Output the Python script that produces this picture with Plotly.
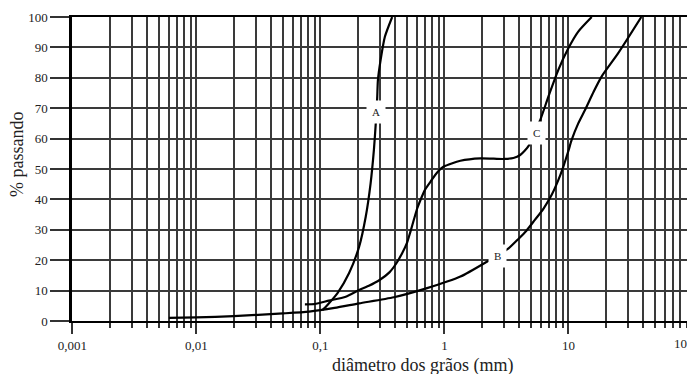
import math
import plotly.graph_objects as go

# ---- data ----
a_d = [0.104, 0.114, 0.137, 0.17, 0.205, 0.232, 0.254, 0.27, 0.279, 0.287, 0.291, 0.306, 0.331, 0.379]
a_v = [3.6, 5.3, 9.1, 15.7, 24.4, 34.3, 45.3, 56.3, 64.5, 73.3, 79.3, 85.9, 93.5, 100.0]

b_d = [0.006, 0.01, 0.02, 0.05, 0.081, 0.13, 0.205, 0.391, 0.724, 1.346, 2.2, 3.29, 3.95, 4.6,
       5.3, 6.3, 7.33, 8.3, 9.1, 10.0, 10.6, 12.0, 13.6, 16.0, 18.5, 25.2, 38.7]
b_v = [1.0, 1.2, 1.6, 2.5, 3.1, 4.3, 5.8, 7.8, 10.8, 14.6, 19.5, 23.9, 27.0, 29.8,
       33.0, 37.0, 41.5, 46.4, 50.8, 56.0, 59.5, 65.0, 69.4, 75.5, 80.4, 88.1, 100.0]

c_d = [0.075, 0.09, 0.117, 0.16, 0.205, 0.246, 0.3, 0.36, 0.41, 0.456, 0.5, 0.533, 0.566, 0.603,
       0.641, 0.7, 0.771, 0.87, 0.987, 1.345, 1.95, 3.0, 3.6, 4.08, 4.76, 5.3, 5.92, 6.89, 8.29,
       9.98, 12.0, 15.4]
c_v = [5.5, 5.6, 6.7, 8.0, 10.2, 11.6, 13.5, 16.0, 19.0, 22.3, 25.8, 29.5, 33.2, 37.0,
       39.8, 43.3, 45.8, 48.8, 50.8, 52.7, 53.5, 53.3, 53.6, 54.6, 57.5, 62.0, 66.1, 73.8, 82.6,
       89.7, 95.2, 100.0]

curve_names = ["A", "B", "C"]
label_d = [0.279, 2.70, 5.55]
label_v = [68.8, 21.4, 61.7]

x_tick_vals = [0.001, 0.01, 0.1, 1, 10]
x_tick_text = ["0,001", "0,01", "0,1", "1", "10"]
y_tick_vals = [0, 10, 20, 30, 40, 50, 60, 70, 80, 90, 100]
x_minor_vals = [m * 10.0 ** e for e in range(-3, 2) for m in range(2, 10)]

x_title = "diâmetro dos grãos (mm)"
y_title = "% passando"

# ---- figure ----
GRID = "#3a3a3a"
TXT = "#222222"
FONT = "Liberation Serif, Times New Roman, serif"

fig = go.Figure()
for d, v in [(a_d, a_v), (b_d, b_v), (c_d, c_v)]:
    fig.add_trace(go.Scatter(
        x=d, y=v, mode="lines",
        line=dict(color="black", width=2.2, shape="spline", smoothing=0.6),
        hoverinfo="skip", showlegend=False))

annotations = []
for name, d, v in zip(curve_names, label_d, label_v):
    annotations.append(dict(x=math.log10(d), y=v, xref="x", yref="y", text=name, showarrow=False,
                            font=dict(size=11, color=TXT, family=FONT),
                            bgcolor="white", borderpad=5))

annotations.append(dict(x=(684 - 72) / 615, y=(321 - 343) / 304, xref="paper", yref="paper",
                        text="100", showarrow=False, xanchor="center", yanchor="middle",
                        font=dict(size=13, color=TXT, family=FONT)))
annotations.append(dict(x=(423 - 72) / 615, y=(321 - 365) / 304, xref="paper", yref="paper",
                        text=x_title, showarrow=False, xanchor="center", yanchor="middle",
                        font=dict(size=18, color=TXT, family=FONT)))
annotations.append(dict(x=(17 - 72) / 615, y=(321 - 155) / 304, xref="paper", yref="paper",
                        text=y_title, showarrow=False, xanchor="center", yanchor="middle",
                        textangle=-90, font=dict(size=18, color=TXT, family=FONT)))

fig.update_layout(
    width=687, height=374,
    margin=dict(l=72, r=0, t=17, b=53, autoexpand=False),
    paper_bgcolor="white", plot_bgcolor="white",
    font=dict(family=FONT, size=13, color=TXT),
    showlegend=False,
    annotations=annotations,
)

fig.update_xaxes(
    type="log", range=[-3.003, 1.956],
    tickmode="array", tickvals=x_tick_vals, ticktext=x_tick_text,
    ticks="outside", ticklen=11, tickwidth=1.5, tickcolor="#333",
    showgrid=True, gridcolor=GRID, gridwidth=1.5,
    showline=True, linecolor="black", linewidth=2, mirror=True,
    zeroline=False, automargin=False, fixedrange=True,
    tickfont=dict(size=13, family=FONT, color=TXT),
    minor=dict(tickmode="array", tickvals=x_minor_vals, ticks="outside", ticklen=5,
               tickwidth=1.5, tickcolor="#333", showgrid=True, gridcolor=GRID, gridwidth=1.5),
)
fig.update_yaxes(
    range=[0, 100], tickmode="array", tickvals=y_tick_vals,
    ticks="outside", ticklen=19, tickwidth=1.5, tickcolor="#333",
    showgrid=True, gridcolor=GRID, gridwidth=1.5,
    showline=True, linecolor="black", linewidth=2.5,
    zeroline=False, automargin=False, fixedrange=True,
    tickfont=dict(size=13, family=FONT, color=TXT),
)

fig.write_html("out.html",
               config={"displayModeBar": False},
               post_script="document.body.style.margin='0';document.body.style.overflow='hidden';")
